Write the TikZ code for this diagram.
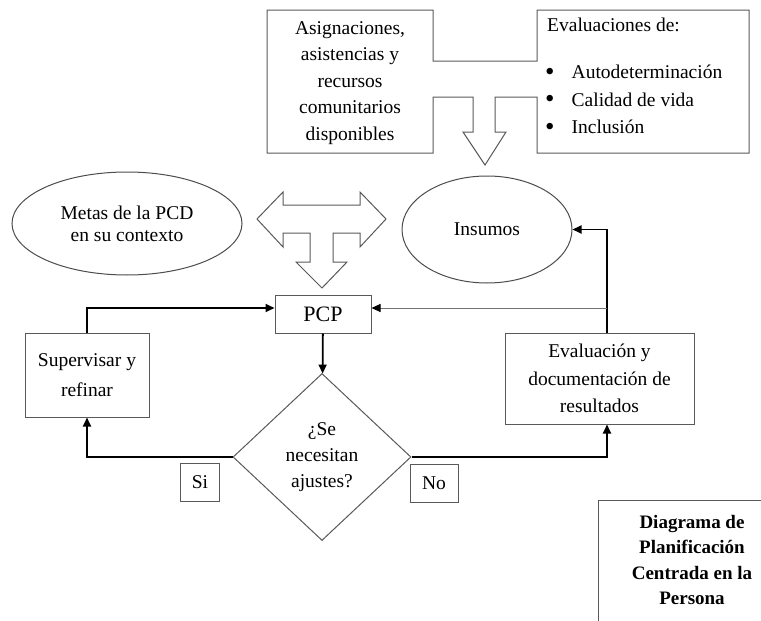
\documentclass[tikz,border=0pt]{standalone}
\usepackage{fontspec}
\setmainfont{Liberation Serif}
\usepackage{tikz}
\usetikzlibrary{arrows.meta, positioning, shapes.geometric}

\newcommand{\punto}{\makebox[25.5pt][l]{\hspace{-1pt}\raisebox{-1.5pt}{\fontsize{27}{27}\selectfont\textbullet}}}

\begin{document}
\begin{tikzpicture}[x=1pt, y=-1pt,
    caja/.style={draw=black!65, line width=1pt, inner sep=0pt, align=center},
    bloque/.style={draw=black!65, line width=1pt},
    texto/.style={font=\fontsize{19.5}{26}\selectfont, align=center, inner sep=0pt},
    flecha/.style={line width=1.8pt, -{Triangle[length=9pt, width=8pt]}},
    flechafina/.style={draw=black!55, line width=0.9pt, -{Triangle[length=9pt, width=8pt, color=black]}}]
    \useasboundingbox (0,0) rectangle (761,621);

    % 上方的两个方框和向下的箭头
    \draw[bloque] (267,10) -- (433,10) -- (433,61) -- (537,61) -- (537,10) -- (749,10)
        -- (749,153) -- (537,153) -- (537,97) -- (495,97) -- (495,132) -- (506,132)
        -- (485,165) -- (463,132) -- (473,132) -- (473,97) -- (433,97) -- (433,153)
        -- (267,153) -- cycle;
    \node[texto, font=\fontsize{19.5}{26.5}\selectfont] (asig) at (350,83)
        {Asignaciones,\\asistencias y\\recursos\\comunitarios\\disponibles};
    \node[texto, anchor=west] (evals) at (547,25) {Evaluaciones de:};
    \node[texto, anchor=west, align=left, font=\fontsize{19.5}{27.5}\selectfont] (lista) at (546,100)
        {\punto Autodeterminación\\
         \punto Calidad de vida\\
         \punto Inclusión};

    % 椭圆
    \node[caja, ellipse, minimum width=230pt, minimum height=103pt, texto,
        font=\fontsize{19.5}{22}\selectfont, draw=black!70] (metas) at (127,223.5)
        {Metas de la PCD\\en su contexto};
    \node[caja, ellipse, minimum width=170pt, minimum height=107pt, texto, draw=black!70]
        (insumos) at (487,229.5) {Insumos};

    % 双向箭头
    \draw[bloque] (257,219) -- (283,192) -- (283,205) -- (360,205) -- (360,192) -- (386,219)
        -- (360,247) -- (360,233) -- (333,233) -- (333,262) -- (347,262) -- (322,288)
        -- (296,262) -- (310,262) -- (310,233) -- (283,233) -- (283,247) -- cycle;

    % 流程
    \node[caja, texto, font=\fontsize{22}{26}\selectfont, minimum width=96pt, minimum height=38pt]
        (pcp) at (323,314) {PCP};
    \node[caja, texto, font=\fontsize{19.5}{30}\selectfont, minimum width=124pt, minimum height=84pt]
        (super) at (87,375) {Supervisar y\\refinar};
    \node[caja, texto, font=\fontsize{19.5}{27.5}\selectfont, minimum width=189pt, minimum height=91pt]
        (evalu) at (599.5,378.5) {Evaluación y\\documentación de\\resultados};
    \node[caja, diamond, texto, minimum width=178pt, minimum height=167pt]
        (decide) at (322,457) {¿Se\\necesitan\\ajustes?};
    \node[caja, texto, minimum width=39pt, minimum height=38pt] (si) at (200,482) {Si};
    \node[caja, texto, minimum width=48pt, minimum height=38pt] (no) at (434,483) {No};
    \coordinate (cruce) at (607,308);

    \draw[flecha] (pcp) -- (decide);
    \draw[flecha] (decide.west) -| (super.south);
    \draw[flecha] (super.north) |- ([yshift=6pt]pcp.west);
    \draw[flecha] (decide.east) -| ([xshift=7.5pt]evalu.south);
    \draw[flecha] ([xshift=7.5pt]evalu.north) |- (insumos.east);
    \draw[flechafina] (cruce) -- ([yshift=6pt]pcp.east);

    % 标题
    \draw[bloque] (761,500) -- (598,500) -- (598,621);
    \node[texto, font=\fontsize{19}{25.5}\selectfont\bfseries] (titulo) at (692,560)
        {Diagrama de\\Planificación\\Centrada en la\\Persona};
\end{tikzpicture}
\end{document}
